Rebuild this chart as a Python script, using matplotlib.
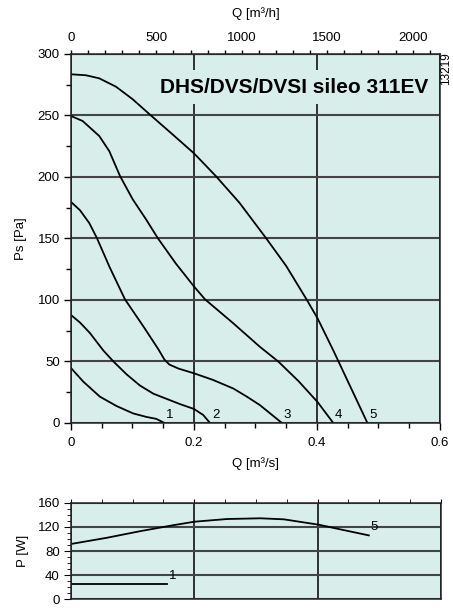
import matplotlib
matplotlib.use("Agg")
import matplotlib.pyplot as plt
from matplotlib.ticker import MultipleLocator, FixedLocator

plt.rcParams["font.family"] = ["Liberation Sans", "DejaVu Sans"]

# Pressure curves, Q [m3/s] vs Ps [Pa]
q1 = [0, 0.02, 0.047, 0.074, 0.101, 0.122, 0.139, 0.152]
p1 = [44.7, 33.6, 21.4, 13.8, 7.8, 5, 3.3, 0]
q2 = [0, 0.015, 0.031, 0.0525, 0.069, 0.0905, 0.112, 0.134, 0.156, 0.177, 0.2, 0.215, 0.226]
p2 = [87.8, 81.5, 73, 59, 50, 39.5, 30.5, 23.8, 19.5, 15.4, 11.4, 6.5, 0]
q3 = [0, 0.0146, 0.0298, 0.042, 0.063, 0.0878, 0.118, 0.142, 0.152, 0.16, 0.175, 0.2, 0.231, 0.264, 0.286, 0.307, 0.343]
p3 = [179.7, 173, 162.5, 150.5, 126.5, 100.5, 78.3, 60, 51.5, 47.5, 44.2, 40.4, 35, 28, 21.4, 14.6, 0]
q4 = [0, 0.019, 0.046, 0.0623, 0.0797, 0.1003, 0.122, 0.141, 0.1707, 0.2, 0.218, 0.264, 0.307, 0.337, 0.37, 0.401, 0.4265]
p4 = [249.6, 245.5, 233.3, 221, 200.8, 181.9, 165.6, 150.4, 129.5, 111, 100.5, 81, 62, 50, 34, 17, 0]
q5 = [0, 0.0244, 0.046, 0.0732, 0.1003, 0.13, 0.165, 0.2005, 0.236, 0.274, 0.317, 0.35, 0.383, 0.401, 0.4265, 0.435, 0.482]
p5 = [283.5, 282.7, 280.2, 273.4, 263.2, 250, 234.7, 219, 200.5, 179, 150.4, 127.6, 100.5, 85, 59, 50, 0]
curve_q = [q1, q2, q3, q4, q5]
curve_p = [p1, p2, p3, p4, p5]
curve_names = ["1", "2", "3", "4", "5"]

# Power input curves, Q [m3/s] vs P [W]
pw_q1 = [0, 0.156]
pw_p1 = [24.5, 24.5]
pw_q5 = [0, 0.058, 0.112, 0.166, 0.2, 0.253, 0.307, 0.345, 0.402, 0.437, 0.483]
pw_p5 = [91.7, 102, 113, 123, 128.8, 133.3, 134.5, 132.8, 123.8, 116, 106]
power_q = [pw_q1, pw_q5]
power_p = [pw_p1, pw_p5]
power_names = ["1", "5"]

title = "DHS/DVS/DVSI sileo 311EV"
bg = "#d8eeea"
fs = 9.5

fig = plt.figure(figsize=(4.53, 6.08), dpi=100)
ax = fig.add_axes([0.1567, 0.3043, 0.8146, 0.6069])
ax2 = fig.add_axes([0.1567, 0.0148, 0.8168, 0.1579])

for a in (ax, ax2):
    a.set_facecolor(bg)
    for s in a.spines.values():
        s.set_color("#222222")
        s.set_linewidth(1.1)
    a.set_xlim(0, 0.6)
    a.xaxis.set_major_locator(FixedLocator([0, 0.2, 0.4, 0.6]))
    a.xaxis.set_minor_locator(MultipleLocator(0.05))
    a.grid(True, which="major", axis="x", color="#111111", lw=1.2)
    a.grid(True, which="major", axis="y", color="#444444", lw=1.5)

# main chart
for q, p, name in zip(curve_q, curve_p, curve_names):
    ax.plot(q, p, color="black", lw=1.3, solid_joinstyle="round")
    ax.text(q[-1] + 0.003, 2, name, fontsize=fs, ha="left", va="bottom")

ax.set_ylim(0, 300)
ax.yaxis.set_major_locator(MultipleLocator(50))
ax.yaxis.set_minor_locator(MultipleLocator(25))
ax.set_xticklabels(["0", "0.2", "0.4", "0.6"])
ax.tick_params(which="major", length=5, width=1, labelsize=fs, pad=3)
ax.tick_params(which="minor", length=3.5, width=1)
ax.tick_params(axis="x", which="major", pad=5)
ax.set_xlabel("Q [m³/s]", fontsize=fs, labelpad=6)
ax.set_ylabel("Ps [Pa]", fontsize=fs, labelpad=8)

top = ax.secondary_xaxis("top", functions=(lambda q: q * 3600, lambda h: h / 3600))
top.set_xticks([0, 500, 1000, 1500, 2000])
top.xaxis.set_minor_locator(MultipleLocator(100))
top.tick_params(which="both", length=3, width=1, labelsize=fs, pad=4)
top.spines["top"].set_color("#222222")
top.set_xlabel("Q [m³/h]", fontsize=fs, labelpad=11)

ax.text(0.5805, 273, title, fontsize=15, fontweight="bold", ha="right", va="center",
        bbox=dict(facecolor=bg, edgecolor="none", boxstyle="square,pad=0.35"))
fig.text(0.984, (608 - 52) / 608, "13219", rotation=90, fontsize=8.5, ha="center", va="top")

# power chart
for q, p, name in zip(power_q, power_p, power_names):
    ax2.plot(q, p, color="black", lw=1.3, solid_joinstyle="round")
    ax2.text(q[-1] + 0.003, p[-1] + 4, name, fontsize=fs, ha="left", va="bottom")

ax2.set_ylim(0, 160)
ax2.yaxis.set_major_locator(MultipleLocator(40))
ax2.yaxis.set_minor_locator(MultipleLocator(10))
ax2.tick_params(axis="x", which="both", bottom=False, top=True, labelbottom=False, length=3)
ax2.tick_params(axis="y", which="major", length=5, labelsize=fs, pad=3)
ax2.tick_params(axis="y", which="minor", length=3)
ax2.set_ylabel("P [W]", fontsize=fs, labelpad=6)

plt.savefig("out.png", dpi=100)
plt.close()
